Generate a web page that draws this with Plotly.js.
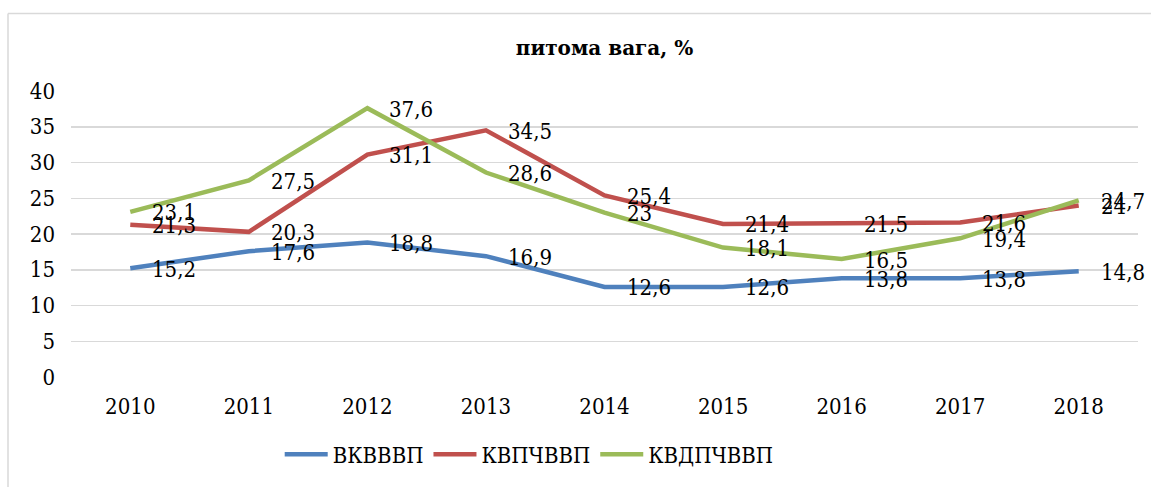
<!DOCTYPE html>
<html>
<head>
<meta charset="utf-8">
<script src="https://cdn.plot.ly/plotly-3.0.1.min.js"></script>
<style>
  html, body { margin: 0; padding: 0; background: #fff; }
  #chart { width: 1151px; height: 487px; }
</style>
</head>
<body>
<div id="chart"></div>
<script>
const years = ["2010", "2011", "2012", "2013", "2014", "2015", "2016", "2017", "2018"];
const seriesNames = ["ВКВВВП", "КВПЧВВП", "КВДПЧВВП"];
const vkvvvp = [15.2, 17.6, 18.8, 16.9, 12.6, 12.6, 13.8, 13.8, 14.8];
const kvpchvvp = [21.3, 20.3, 31.1, 34.5, 25.4, 21.4, 21.5, 21.6, 24];
const kvdpchvvp = [23.1, 27.5, 37.6, 28.6, 23, 18.1, 16.5, 19.4, 24.7];
const colors = ["#4F81BD", "#C0504D", "#9BBB59"];
const yTicks = [0, 5, 10, 15, 20, 25, 30, 35, 40];

const FONT = "DejaVu Serif Condensed";
const allSeries = [vkvvvp, kvpchvvp, kvdpchvvp];

const traces = allSeries.map((vals, i) => ({
  type: "scatter",
  mode: "lines",
  x: years,
  y: vals,
  name: seriesNames[i],
  line: { color: colors[i], width: 4.5 },
  hoverinfo: "skip"
}));

const annotations = [];
allSeries.forEach((vals) => {
  vals.forEach((v, j) => {
    annotations.push({
      x: j, y: v, xref: "x", yref: "y",
      text: String(v).replace(".", ","),
      showarrow: false,
      xanchor: "left", yanchor: "middle",
      xshift: 20, yshift: -1,
      font: { family: FONT, size: 22, color: "#000" }
    });
  });
});

const layout = {
  width: 1151, height: 487,
  margin: { l: 71, r: 13, t: 91, b: 108 },
  paper_bgcolor: "#fff",
  plot_bgcolor: "#fff",
  showlegend: true,
  font: { family: FONT, color: "#000" },
  title: {
    text: "<b>питома вага, %</b>",
    font: { family: "DejaVu Serif", size: 20, color: "#000" },
    x: 0.5, xanchor: "center",
    y: 1 - 48 / 487, yanchor: "middle",
    xref: "paper"
  },
  xaxis: {
    type: "category",
    range: [-0.5, 8.5],
    showgrid: false,
    zeroline: false,
    showline: false,
    ticks: "",
    ticklabelstandoff: 14,
    tickfont: { family: FONT, size: 22, color: "#000" },
    fixedrange: true
  },
  yaxis: {
    range: [0, 40],
    tickvals: yTicks,
    ticktext: yTicks.map(String),
    showgrid: true,
    gridcolor: "#d9d9d9",
    gridwidth: 1.5,
    zeroline: false,
    showline: false,
    ticks: "",
    ticklabelstandoff: 15,
    tickfont: { family: FONT, size: 22, color: "#000" },
    fixedrange: true
  },
  legend: {
    orientation: "h",
    x: 0.1956, xanchor: "left",
    y: -0.2704, yanchor: "middle",
    itemwidth: 43,
    font: { family: FONT, size: 22, color: "#000" },
    bgcolor: "rgba(0,0,0,0)"
  },
  annotations: annotations,
  shapes: [
    { type: "line", xref: "paper", yref: "paper",
      x0: (8 - 71) / 1067, x1: (8 - 71) / 1067,
      y0: (379 - 13) / 288, y1: -0.5,
      line: { color: "#d9d9d9", width: 1.5 } },
    { type: "line", xref: "paper", yref: "paper",
      x0: (8 - 71) / 1067, x1: 1.1,
      y0: (379 - 13) / 288, y1: (379 - 13) / 288,
      line: { color: "#d9d9d9", width: 1.5 } }
  ]
};

Plotly.newPlot("chart", traces, layout, { displayModeBar: false, staticPlot: true });
</script>
</body>
</html>
